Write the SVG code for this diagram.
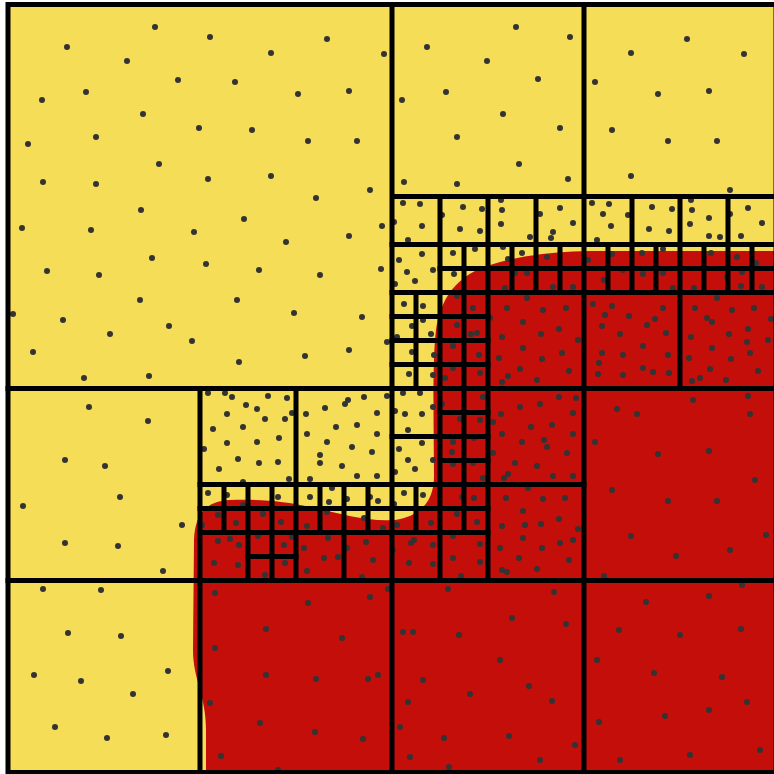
<svg xmlns="http://www.w3.org/2000/svg" width="774" height="774" viewBox="0 0 774 774">
<style>
.g{fill:none;stroke:#000;stroke-width:5;stroke-linecap:square}
.d circle{fill:#333}
</style>
<defs>
<clipPath id="sq"><rect x="8" y="4.5" width="768" height="768"/></clipPath>
</defs>
<rect width="774" height="774" fill="#fff"/>
<rect x="8" y="4.5" width="768" height="768" fill="#F6DD57"/>
<path clip-path="url(#sq)" fill="#C40E0A" d="M800 251 L590 251 C540 252 500 259 475 271 C450 284 440 305 436 330 C432 360 434 440 434 476 C434 502 420 516 395 520 C365 522 340 513 310 507 C285 501 260 499 230 500 C205 501 195 515 194 540 L193 650 C193 680 206 695 206 730 L206 800 L800 800 Z"/>
<g class="d">
<circle cx="155" cy="27" r="3"/><circle cx="67" cy="47" r="3"/><circle cx="127" cy="61" r="3"/><circle cx="178" cy="80" r="3"/><circle cx="86" cy="92" r="3"/><circle cx="42" cy="100" r="3"/><circle cx="143" cy="114" r="3"/><circle cx="199" cy="128" r="3"/><circle cx="96" cy="137" r="3"/><circle cx="28" cy="144" r="3"/><circle cx="159" cy="164" r="3"/><circle cx="43" cy="182" r="3"/><circle cx="96" cy="184" r="3"/>
<circle cx="210" cy="37" r="3"/><circle cx="208" cy="179" r="3"/><circle cx="327" cy="39" r="3"/><circle cx="271" cy="53" r="3"/><circle cx="384" cy="54" r="3"/><circle cx="235" cy="82" r="3"/><circle cx="298" cy="94" r="3"/><circle cx="349" cy="91" r="3"/><circle cx="252" cy="130" r="3"/><circle cx="308" cy="141" r="3"/><circle cx="357" cy="141" r="3"/><circle cx="271" cy="176" r="3"/><circle cx="370" cy="190" r="3"/>
<circle cx="141" cy="210" r="3"/><circle cx="194" cy="232" r="3"/><circle cx="316" cy="198" r="3"/><circle cx="22" cy="228" r="3"/><circle cx="91" cy="230" r="3"/><circle cx="244" cy="219" r="3"/><circle cx="349" cy="236" r="3"/><circle cx="382" cy="226" r="3"/><circle cx="286" cy="242" r="3"/><circle cx="47" cy="271" r="3"/><circle cx="99" cy="275" r="3"/><circle cx="152" cy="258" r="3"/><circle cx="206" cy="264" r="3"/><circle cx="259" cy="270" r="3"/><circle cx="320" cy="275" r="3"/><circle cx="381" cy="269" r="3"/><circle cx="13" cy="314" r="3"/><circle cx="63" cy="320" r="3"/><circle cx="140" cy="300" r="3"/><circle cx="169" cy="326" r="3"/><circle cx="192" cy="341" r="3"/><circle cx="237" cy="300" r="3"/><circle cx="294" cy="313" r="3"/><circle cx="362" cy="317" r="3"/><circle cx="110" cy="334" r="3"/><circle cx="33" cy="352" r="3"/><circle cx="239" cy="362" r="3"/><circle cx="305" cy="356" r="3"/><circle cx="349" cy="350" r="3"/><circle cx="84" cy="378" r="3"/><circle cx="149" cy="376" r="3"/><circle cx="387" cy="342" r="3"/>
<circle cx="516" cy="27" r="3"/><circle cx="427" cy="47" r="3"/><circle cx="570" cy="37" r="3"/><circle cx="487" cy="61" r="3"/><circle cx="538" cy="79" r="3"/><circle cx="446" cy="92" r="3"/><circle cx="402" cy="100" r="3"/><circle cx="503" cy="114" r="3"/><circle cx="560" cy="128" r="3"/><circle cx="457" cy="137" r="3"/><circle cx="519" cy="164" r="3"/><circle cx="404" cy="182" r="3"/><circle cx="457" cy="184" r="3"/><circle cx="568" cy="179" r="3"/>
<circle cx="687" cy="39" r="3"/><circle cx="631" cy="53" r="3"/><circle cx="744" cy="54" r="3"/><circle cx="595" cy="82" r="3"/><circle cx="658" cy="94" r="3"/><circle cx="709" cy="91" r="3"/><circle cx="612" cy="130" r="3"/><circle cx="668" cy="141" r="3"/><circle cx="717" cy="141" r="3"/><circle cx="631" cy="176" r="3"/><circle cx="730" cy="190" r="3"/>
<circle cx="403" cy="203" r="3"/><circle cx="420" cy="204" r="3"/><circle cx="442" cy="215" r="3"/><circle cx="463" cy="207" r="3"/><circle cx="482" cy="209" r="3"/><circle cx="501" cy="200" r="3"/><circle cx="502" cy="210" r="3"/><circle cx="394" cy="222" r="3"/><circle cx="422" cy="226" r="3"/><circle cx="460" cy="229" r="3"/><circle cx="480" cy="231" r="3"/><circle cx="501" cy="224" r="3"/><circle cx="540" cy="214" r="3"/><circle cx="560" cy="208" r="3"/><circle cx="573" cy="223" r="3"/><circle cx="553" cy="232" r="3"/><circle cx="551" cy="238" r="3"/><circle cx="530" cy="237" r="3"/><circle cx="408" cy="240" r="3"/>
<circle cx="422" cy="254" r="3"/><circle cx="399" cy="260" r="3"/><circle cx="407" cy="272" r="3"/><circle cx="415" cy="281" r="3"/><circle cx="395" cy="284" r="3"/><circle cx="433" cy="270" r="3"/><circle cx="453" cy="253" r="3"/><circle cx="475" cy="249" r="3"/><circle cx="454" cy="274" r="3"/><circle cx="503" cy="247" r="3"/><circle cx="522" cy="253" r="3"/><circle cx="508" cy="259" r="3"/><circle cx="547" cy="257" r="3"/><circle cx="515" cy="273" r="3"/><circle cx="527" cy="273" r="3"/><circle cx="553" cy="287" r="3"/><circle cx="573" cy="287" r="3"/><circle cx="505" cy="288" r="3"/>
<circle cx="404" cy="304" r="3"/><circle cx="423" cy="306" r="3"/><circle cx="412" cy="326" r="3"/><circle cx="423" cy="320" r="3"/><circle cx="431" cy="334" r="3"/><circle cx="397" cy="337" r="3"/><circle cx="412" cy="352" r="3"/><circle cx="434" cy="355" r="3"/><circle cx="409" cy="374" r="3"/><circle cx="433" cy="375" r="3"/><circle cx="457" cy="296" r="3"/><circle cx="473" cy="308" r="3"/><circle cx="457" cy="325" r="3"/><circle cx="471" cy="334" r="3"/><circle cx="477" cy="333" r="3"/><circle cx="453" cy="346" r="3"/><circle cx="479" cy="355" r="3"/><circle cx="453" cy="368" r="3"/><circle cx="480" cy="373" r="3"/><circle cx="445" cy="378" r="3"/>
<circle cx="507" cy="308" r="3"/><circle cx="527" cy="298" r="3"/><circle cx="543" cy="310" r="3"/><circle cx="566" cy="308" r="3"/><circle cx="490" cy="318" r="3"/><circle cx="523" cy="322" r="3"/><circle cx="502" cy="337" r="3"/><circle cx="541" cy="334" r="3"/><circle cx="559" cy="329" r="3"/><circle cx="578" cy="340" r="3"/><circle cx="523" cy="348" r="3"/><circle cx="562" cy="353" r="3"/><circle cx="499" cy="358" r="3"/><circle cx="542" cy="359" r="3"/><circle cx="508" cy="376" r="3"/><circle cx="520" cy="369" r="3"/><circle cx="569" cy="371" r="3"/><circle cx="502" cy="382" r="3"/><circle cx="537" cy="380" r="3"/>
<circle cx="592" cy="203" r="3"/><circle cx="609" cy="204" r="3"/><circle cx="603" cy="214" r="3"/><circle cx="611" cy="226" r="3"/><circle cx="597" cy="240" r="3"/><circle cx="628" cy="215" r="3"/><circle cx="652" cy="207" r="3"/><circle cx="672" cy="209" r="3"/><circle cx="649" cy="229" r="3"/><circle cx="669" cy="231" r="3"/><circle cx="691" cy="200" r="3"/><circle cx="692" cy="210" r="3"/><circle cx="690" cy="224" r="3"/><circle cx="709" cy="218" r="3"/><circle cx="730" cy="214" r="3"/><circle cx="748" cy="208" r="3"/><circle cx="762" cy="223" r="3"/><circle cx="709" cy="236" r="3"/><circle cx="720" cy="237" r="3"/><circle cx="741" cy="236" r="3"/>
<circle cx="588" cy="260" r="3"/><circle cx="604" cy="280" r="3"/><circle cx="612" cy="254" r="3"/><circle cx="623" cy="270" r="3"/><circle cx="642" cy="253" r="3"/><circle cx="643" cy="274" r="3"/><circle cx="663" cy="249" r="3"/><circle cx="663" cy="273" r="3"/><circle cx="673" cy="288" r="3"/><circle cx="694" cy="288" r="3"/><circle cx="711" cy="253" r="3"/><circle cx="727" cy="277" r="3"/><circle cx="737" cy="257" r="3"/><circle cx="742" cy="272" r="3"/><circle cx="741" cy="286" r="3"/><circle cx="756" cy="263" r="3"/><circle cx="762" cy="287" r="3"/>
<circle cx="593" cy="304" r="3"/><circle cx="612" cy="306" r="3"/><circle cx="605" cy="315" r="3"/><circle cx="629" cy="316" r="3"/><circle cx="602" cy="326" r="3"/><circle cx="647" cy="325" r="3"/><circle cx="655" cy="319" r="3"/><circle cx="663" cy="308" r="3"/><circle cx="620" cy="334" r="3"/><circle cx="666" cy="333" r="3"/><circle cx="643" cy="346" r="3"/><circle cx="602" cy="353" r="3"/><circle cx="623" cy="355" r="3"/><circle cx="668" cy="355" r="3"/><circle cx="599" cy="363" r="3"/><circle cx="598" cy="374" r="3"/><circle cx="623" cy="375" r="3"/><circle cx="643" cy="368" r="3"/><circle cx="653" cy="372" r="3"/><circle cx="669" cy="373" r="3"/>
<circle cx="695" cy="308" r="3"/><circle cx="717" cy="298" r="3"/><circle cx="732" cy="310" r="3"/><circle cx="754" cy="308" r="3"/><circle cx="707" cy="318" r="3"/><circle cx="712" cy="322" r="3"/><circle cx="771" cy="319" r="3"/><circle cx="691" cy="337" r="3"/><circle cx="729" cy="334" r="3"/><circle cx="748" cy="329" r="3"/><circle cx="747" cy="342" r="3"/><circle cx="768" cy="340" r="3"/><circle cx="712" cy="348" r="3"/><circle cx="731" cy="359" r="3"/><circle cx="750" cy="353" r="3"/><circle cx="689" cy="358" r="3"/><circle cx="710" cy="369" r="3"/><circle cx="700" cy="378" r="3"/><circle cx="692" cy="381" r="3"/><circle cx="726" cy="380" r="3"/><circle cx="758" cy="371" r="3"/>
<circle cx="208" cy="393" r="3"/><circle cx="225" cy="393" r="3"/><circle cx="232" cy="397" r="3"/><circle cx="268" cy="396" r="3"/><circle cx="287" cy="398" r="3"/><circle cx="246" cy="405" r="3"/><circle cx="257" cy="409" r="3"/><circle cx="227" cy="414" r="3"/><circle cx="265" cy="419" r="3"/><circle cx="285" cy="419" r="3"/><circle cx="213" cy="429" r="3"/><circle cx="243" cy="427" r="3"/><circle cx="227" cy="443" r="3"/><circle cx="257" cy="442" r="3"/><circle cx="279" cy="438" r="3"/><circle cx="204" cy="449" r="3"/><circle cx="238" cy="459" r="3"/><circle cx="259" cy="463" r="3"/><circle cx="278" cy="462" r="3"/><circle cx="219" cy="469" r="3"/><circle cx="289" cy="479" r="3"/><circle cx="243" cy="482" r="3"/><circle cx="292" cy="413" r="3"/>
<circle cx="306" cy="414" r="3"/><circle cx="325" cy="408" r="3"/><circle cx="345" cy="404" r="3"/><circle cx="348" cy="400" r="3"/><circle cx="364" cy="397" r="3"/><circle cx="387" cy="396" r="3"/><circle cx="377" cy="413" r="3"/><circle cx="357" cy="425" r="3"/><circle cx="336" cy="427" r="3"/><circle cx="307" cy="434" r="3"/><circle cx="377" cy="434" r="3"/><circle cx="327" cy="442" r="3"/><circle cx="352" cy="447" r="3"/><circle cx="372" cy="452" r="3"/><circle cx="320" cy="455" r="3"/><circle cx="320" cy="463" r="3"/><circle cx="342" cy="466" r="3"/><circle cx="357" cy="476" r="3"/><circle cx="377" cy="476" r="3"/><circle cx="310" cy="479" r="3"/>
<circle cx="208" cy="493" r="3"/><circle cx="227" cy="495" r="3"/><circle cx="278" cy="497" r="3"/><circle cx="310" cy="497" r="3"/><circle cx="332" cy="488" r="3"/><circle cx="329" cy="502" r="3"/><circle cx="347" cy="499" r="3"/><circle cx="370" cy="497" r="3"/><circle cx="378" cy="501" r="3"/><circle cx="243" cy="505" r="3"/><circle cx="218" cy="515" r="3"/><circle cx="236" cy="523" r="3"/><circle cx="263" cy="514" r="3"/><circle cx="281" cy="522" r="3"/><circle cx="202" cy="525" r="3"/><circle cx="307" cy="526" r="3"/><circle cx="327" cy="512" r="3"/><circle cx="364" cy="518" r="3"/><circle cx="383" cy="528" r="3"/><circle cx="218" cy="541" r="3"/><circle cx="230" cy="539" r="3"/><circle cx="239" cy="545" r="3"/><circle cx="258" cy="536" r="3"/><circle cx="284" cy="545" r="3"/><circle cx="292" cy="537" r="3"/><circle cx="304" cy="548" r="3"/><circle cx="328" cy="538" r="3"/><circle cx="347" cy="548" r="3"/><circle cx="366" cy="542" r="3"/><circle cx="214" cy="563" r="3"/><circle cx="238" cy="565" r="3"/><circle cx="265" cy="575" r="3"/><circle cx="285" cy="563" r="3"/><circle cx="307" cy="571" r="3"/><circle cx="324" cy="558" r="3"/><circle cx="338" cy="557" r="3"/><circle cx="373" cy="560" r="3"/><circle cx="362" cy="577" r="3"/>
<circle cx="403" cy="393" r="3"/><circle cx="420" cy="393" r="3"/><circle cx="433" cy="407" r="3"/><circle cx="405" cy="414" r="3"/><circle cx="422" cy="414" r="3"/><circle cx="395" cy="411" r="3"/><circle cx="408" cy="430" r="3"/><circle cx="442" cy="404" r="3"/><circle cx="460" cy="419" r="3"/><circle cx="480" cy="420" r="3"/><circle cx="483" cy="397" r="3"/><circle cx="493" cy="422" r="3"/><circle cx="501" cy="414" r="3"/><circle cx="520" cy="407" r="3"/><circle cx="540" cy="404" r="3"/><circle cx="559" cy="397" r="3"/><circle cx="576" cy="398" r="3"/><circle cx="573" cy="413" r="3"/><circle cx="531" cy="427" r="3"/><circle cx="552" cy="425" r="3"/><circle cx="502" cy="434" r="3"/><circle cx="522" cy="442" r="3"/><circle cx="544" cy="440" r="3"/><circle cx="547" cy="447" r="3"/><circle cx="573" cy="434" r="3"/><circle cx="567" cy="453" r="3"/><circle cx="399" cy="449" r="3"/><circle cx="422" cy="443" r="3"/><circle cx="408" cy="460" r="3"/><circle cx="415" cy="469" r="3"/><circle cx="395" cy="472" r="3"/><circle cx="433" cy="460" r="3"/><circle cx="453" cy="442" r="3"/><circle cx="452" cy="452" r="3"/><circle cx="474" cy="438" r="3"/><circle cx="453" cy="464" r="3"/><circle cx="473" cy="463" r="3"/><circle cx="483" cy="478" r="3"/><circle cx="493" cy="453" r="3"/><circle cx="515" cy="463" r="3"/><circle cx="537" cy="466" r="3"/><circle cx="553" cy="476" r="3"/><circle cx="573" cy="476" r="3"/><circle cx="504" cy="478" r="3"/><circle cx="508" cy="474" r="3"/>
<circle cx="404" cy="493" r="3"/><circle cx="423" cy="495" r="3"/><circle cx="462" cy="497" r="3"/><circle cx="474" cy="498" r="3"/><circle cx="528" cy="488" r="3"/><circle cx="506" cy="498" r="3"/><circle cx="543" cy="499" r="3"/><circle cx="565" cy="498" r="3"/><circle cx="394" cy="504" r="3"/><circle cx="457" cy="514" r="3"/><circle cx="477" cy="522" r="3"/><circle cx="523" cy="511" r="3"/><circle cx="502" cy="526" r="3"/><circle cx="541" cy="524" r="3"/><circle cx="559" cy="519" r="3"/><circle cx="578" cy="529" r="3"/><circle cx="525" cy="525" r="3"/><circle cx="397" cy="525" r="3"/><circle cx="431" cy="523" r="3"/><circle cx="453" cy="536" r="3"/><circle cx="480" cy="544" r="3"/><circle cx="523" cy="538" r="3"/><circle cx="560" cy="543" r="3"/><circle cx="411" cy="543" r="3"/><circle cx="414" cy="540" r="3"/><circle cx="433" cy="545" r="3"/><circle cx="500" cy="548" r="3"/><circle cx="542" cy="548" r="3"/><circle cx="573" cy="540" r="3"/><circle cx="409" cy="563" r="3"/><circle cx="433" cy="564" r="3"/><circle cx="453" cy="558" r="3"/><circle cx="480" cy="562" r="3"/><circle cx="519" cy="558" r="3"/><circle cx="569" cy="560" r="3"/><circle cx="502" cy="570" r="3"/><circle cx="507" cy="572" r="3"/><circle cx="537" cy="569" r="3"/><circle cx="393" cy="550" r="3"/><circle cx="461" cy="576" r="3"/>
<circle cx="617" cy="409" r="3"/><circle cx="637" cy="414" r="3"/><circle cx="693" cy="400" r="3"/><circle cx="748" cy="396" r="3"/><circle cx="750" cy="414" r="3"/><circle cx="595" cy="442" r="3"/><circle cx="658" cy="454" r="3"/><circle cx="709" cy="451" r="3"/><circle cx="612" cy="490" r="3"/><circle cx="668" cy="501" r="3"/><circle cx="717" cy="501" r="3"/><circle cx="631" cy="536" r="3"/><circle cx="730" cy="550" r="3"/><circle cx="676" cy="556" r="3"/><circle cx="604" cy="576" r="3"/><circle cx="755" cy="480" r="3"/><circle cx="766" cy="535" r="3"/>
<circle cx="215" cy="593" r="3"/><circle cx="370" cy="597" r="3"/><circle cx="308" cy="603" r="3"/><circle cx="266" cy="629" r="3"/><circle cx="342" cy="638" r="3"/><circle cx="215" cy="648" r="3"/><circle cx="266" cy="675" r="3"/><circle cx="316" cy="679" r="3"/><circle cx="368" cy="679" r="3"/><circle cx="378" cy="675" r="3"/><circle cx="210" cy="703" r="3"/><circle cx="260" cy="723" r="3"/><circle cx="315" cy="732" r="3"/><circle cx="363" cy="739" r="3"/><circle cx="221" cy="756" r="3"/><circle cx="278" cy="770" r="3"/><circle cx="388" cy="589" r="3"/>
<circle cx="403" cy="632" r="3"/><circle cx="413" cy="632" r="3"/><circle cx="408" cy="702" r="3"/><circle cx="400" cy="727" r="3"/><circle cx="410" cy="757" r="3"/><circle cx="448" cy="589" r="3"/><circle cx="459" cy="635" r="3"/><circle cx="512" cy="618" r="3"/><circle cx="554" cy="592" r="3"/><circle cx="566" cy="624" r="3"/><circle cx="423" cy="680" r="3"/><circle cx="500" cy="660" r="3"/><circle cx="529" cy="686" r="3"/><circle cx="552" cy="701" r="3"/><circle cx="470" cy="694" r="3"/><circle cx="444" cy="738" r="3"/><circle cx="509" cy="736" r="3"/><circle cx="449" cy="767" r="3"/><circle cx="575" cy="745" r="3"/><circle cx="540" cy="760" r="3"/>
<circle cx="709" cy="596" r="3"/><circle cx="646" cy="602" r="3"/><circle cx="742" cy="585" r="3"/><circle cx="619" cy="630" r="3"/><circle cx="680" cy="635" r="3"/><circle cx="741" cy="629" r="3"/><circle cx="597" cy="660" r="3"/><circle cx="654" cy="673" r="3"/><circle cx="722" cy="677" r="3"/><circle cx="599" cy="722" r="3"/><circle cx="665" cy="716" r="3"/><circle cx="709" cy="710" r="3"/><circle cx="747" cy="702" r="3"/><circle cx="620" cy="760" r="3"/><circle cx="690" cy="755" r="3"/><circle cx="760" cy="750" r="3"/>
<circle cx="89" cy="407" r="3"/><circle cx="148" cy="421" r="3"/><circle cx="65" cy="460" r="3"/><circle cx="105" cy="466" r="3"/><circle cx="120" cy="497" r="3"/><circle cx="23" cy="506" r="3"/><circle cx="182" cy="525" r="3"/><circle cx="65" cy="543" r="3"/><circle cx="118" cy="546" r="3"/><circle cx="163" cy="571" r="3"/>
<circle cx="43" cy="589" r="3"/><circle cx="101" cy="590" r="3"/><circle cx="68" cy="633" r="3"/><circle cx="121" cy="636" r="3"/><circle cx="168" cy="671" r="3"/><circle cx="34" cy="675" r="3"/><circle cx="81" cy="681" r="3"/><circle cx="133" cy="694" r="3"/><circle cx="55" cy="727" r="3"/><circle cx="107" cy="738" r="3"/><circle cx="166" cy="735" r="3"/>
</g>
<g id="grid" class="g">
<path d="M392 4.5V772.5 M8 388.5H776 M584 4.5V772.5 M8 580.5H776 M200 388.5V772.5 M392 196.5H776"/>
<path d="M392 292.5H776 M488 196.5V580.5 M200 484.5H584 M680 196.5V388.5 M296 388.5V580.5"/>
<path d="M392 244.5H776 M440 196.5V580.5 M536 196.5V292.5 M632 196.5V292.5 M728 196.5V292.5 M200 532.5H488 M392 340.5H488 M392 436.5H488 M248 484.5V580.5 M344 484.5V580.5"/>
<path d="M440 268.5H776 M464 244.5V532.5 M512 244.5V292.5 M560 244.5V292.5 M608 244.5V292.5 M656 244.5V292.5 M704 244.5V292.5 M752 244.5V292.5 M416 292.5V388.5 M392 316.5H488 M392 364.5H488 M224 484.5V532.5 M272 484.5V580.5 M320 484.5V532.5 M368 484.5V532.5 M200 508.5H488 M248 556.5H296 M440 412.5H488 M440 460.5H488 M416 484.5V532.5"/>
<rect x="8" y="4.5" width="768" height="768"/>
</g>
</svg>
